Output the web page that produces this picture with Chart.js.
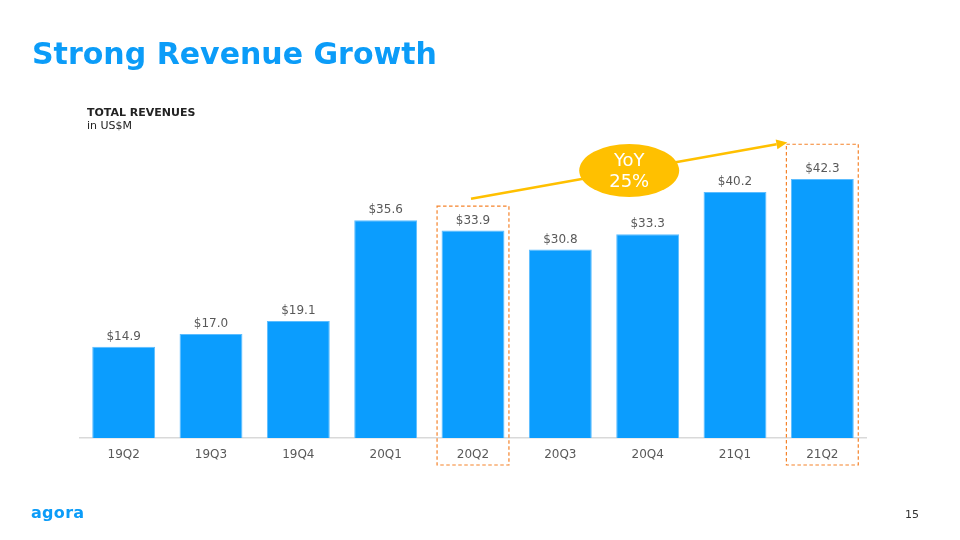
<!DOCTYPE html>
<html>
<head>
<meta charset="utf-8">
<script src="https://cdn.jsdelivr.net/npm/chart.js@4"></script>
<style>
  body { margin: 0; background: #fff; font-family: "DejaVu Sans", Verdana, sans-serif; }
  #page { position: relative; width: 960px; height: 540px; overflow: hidden; }
  #chart-wrap { position: absolute; left: 0; top: 0; width: 960px; height: 540px; }
  .title { position: absolute; left: 32px; top: 36px; font-size: 30px; font-weight: bold; color: #0B9CF8; white-space: nowrap; }
  .sub { position: absolute; left: 87px; top: 106px; font-size: 11px; color: #222; line-height: 13px; }
  .sub b { font-weight: bold; }
  .logo { position: absolute; left: 31px; top: 503px; font-size: 16px; font-weight: bold; color: #0B9CF8; letter-spacing: 0.3px; }
  .pagenum { position: absolute; left: 905px; top: 508px; font-size: 11px; color: #333; }
</style>
</head>
<body>
<div id="page">
  <div id="chart-wrap"><canvas id="revChart" width="960" height="540"></canvas></div>
  <div class="title">Strong Revenue Growth</div>
  <div class="sub"><b>TOTAL REVENUES</b><br>in US$M</div>
  <div class="logo">agora</div>
  <div class="pagenum">15</div>
</div>
<script>
// dados do gráfico
const quarters = ['19Q2', '19Q3', '19Q4', '20Q1', '20Q2', '20Q3', '20Q4', '21Q1', '21Q2'];
const revenues = [14.9, 17.0, 19.1, 35.6, 33.9, 30.8, 33.3, 40.2, 42.3];
const valueLabels = revenues.map(v => '$' + v.toFixed(1));

// comparação YoY: 20Q2 -> 21Q2
const highlightIdx = [4, 8];
const highlightTop = [37.9, 48.0]; // topo das caixas tracejadas (em US$M)
const yoyText = ['YoY', '25%'];

const FONT = '"DejaVu Sans", Verdana, sans-serif';

// rótulos de valor acima das barras
const valueLabelPlugin = {
    id: 'valueLabels',
    afterDatasetsDraw(chart) {
        const ctx = chart.ctx;
        const meta = chart.getDatasetMeta(0);
        ctx.save();
        ctx.font = '12px ' + FONT;
        ctx.fillStyle = '#595959';
        ctx.textAlign = 'center';
        ctx.textBaseline = 'alphabetic';
        meta.data.forEach((bar, i) => {
            ctx.fillText(valueLabels[i], bar.x, bar.y - 7);
        });
        ctx.restore();
    }
};

// caixas tracejadas + seta + balão YoY
const yoyPlugin = {
    id: 'yoy',
    afterDraw(chart) {
        const ctx = chart.ctx;
        const x = chart.scales.x;
        const y = chart.scales.y;
        const bottom = chart.chartArea.bottom + 27;
        const meta = chart.getDatasetMeta(0);
        const half = meta.data[0].width / 2 + 4.5;

        ctx.save();
        ctx.strokeStyle = '#F5832A';
        ctx.lineWidth = 1.2;
        ctx.setLineDash([3.5, 2.5]);
        highlightIdx.forEach((idx, k) => {
            const cx = x.getPixelForValue(idx);
            const top = y.getPixelForValue(highlightTop[k]);
            ctx.strokeRect(cx - half, top, half * 2, bottom - top);
        });
        ctx.setLineDash([]);

        // seta
        const x1 = x.getPixelForValue(highlightIdx[0]) - 2;
        const y1 = y.getPixelForValue(39.1);
        const x2 = x.getPixelForValue(highlightIdx[1]) - half + 1;
        const y2 = y.getPixelForValue(48.3);
        const ang = Math.atan2(y2 - y1, x2 - x1);
        const headLen = 11, headW = 5;
        const bx = x2 - headLen * Math.cos(ang), by = y2 - headLen * Math.sin(ang);
        ctx.strokeStyle = '#FFC000';
        ctx.fillStyle = '#FFC000';
        ctx.lineWidth = 2.5;
        ctx.beginPath();
        ctx.moveTo(x1, y1);
        ctx.lineTo(bx, by);
        ctx.stroke();
        ctx.beginPath();
        ctx.moveTo(x2, y2);
        ctx.lineTo(bx + headW * Math.sin(ang), by - headW * Math.cos(ang));
        ctx.lineTo(bx - headW * Math.sin(ang), by + headW * Math.cos(ang));
        ctx.closePath();
        ctx.fill();

        // balão
        const ex = (x1 + x2) / 2;
        const ey = (y1 + y2) / 2;
        ctx.beginPath();
        ctx.ellipse(ex, ey, 50, 26.5, 0, 0, Math.PI * 2);
        ctx.fill();
        ctx.fillStyle = '#ffffff';
        ctx.font = '18px ' + FONT;
        ctx.textAlign = 'center';
        ctx.textBaseline = 'middle';
        ctx.fillText(yoyText[0], ex, ey - 9);
        ctx.fillText(yoyText[1], ex, ey + 12);
        ctx.restore();
    }
};

new Chart(document.getElementById('revChart'), {
    type: 'bar',
    data: {
        labels: quarters,
        datasets: [{
            data: revenues,
            backgroundColor: '#0B9DFE',
            borderColor: '#5CBDFF',
            borderWidth: 1,
            categoryPercentage: 1,
            barPercentage: 0.72
        }]
    },
    options: {
        responsive: false,
        animation: false,
        events: [],
        layout: { padding: { left: 80, right: 94, top: 132, bottom: 0 } },
        plugins: {
            legend: { display: false },
            tooltip: { enabled: false }
        },
        scales: {
            x: {
                grid: { display: false, drawTicks: false },
                border: { display: true, color: '#D9D9D9', width: 1.5 },
                ticks: { color: '#595959', font: { family: FONT, size: 12 }, padding: 10 },
                afterFit(scale) { scale.height = 102; }
            },
            y: {
                display: false,
                min: 0,
                max: 50
            }
        }
    },
    plugins: [valueLabelPlugin, yoyPlugin]
});
</script>
</body>
</html>
